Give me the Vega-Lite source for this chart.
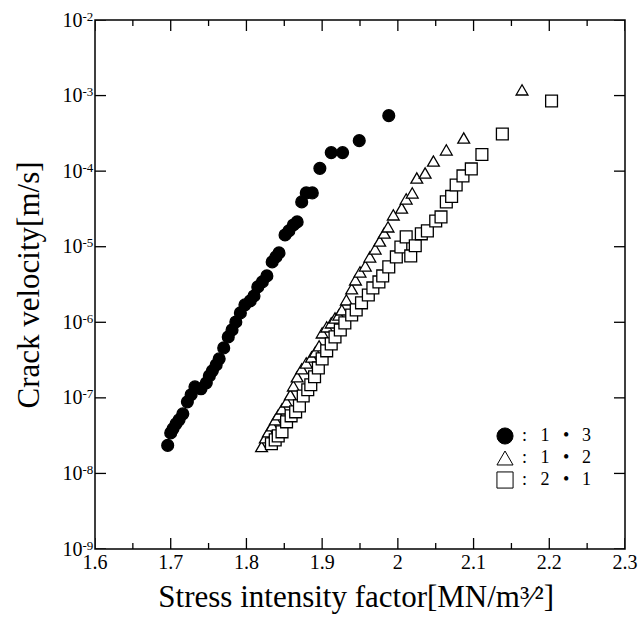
{
  "$schema": "https://vega.github.io/schema/vega-lite/v6.json",
  "width": 530,
  "height": 529,
  "autosize": {"type": "none"},
  "padding": {"left": 95, "top": 20, "right": 13, "bottom": 74},
  "background": "white",
  "config": {
    "view": {"stroke": "black", "strokeWidth": 1.5},
    "axis": {
      "domain": false, "grid": false, "ticks": false,
      "labelFont": "Liberation Serif", "labelFontSize": 20, "labelColor": "black",
      "labelFlush": false, "labelOverlap": false,
      "titleFont": "Liberation Serif", "titleFontSize": 31, "titleFontWeight": "normal", "titleColor": "black"
    },
    "legend": {
      "orient": "none", "legendX": 401, "legendY": 407, "padding": 0,
      "symbolSize": 260, "symbolStrokeWidth": 1,
      "labelFont": "Liberation Serif", "labelFontSize": 18, "labelColor": "black",
      "labelOffset": 8, "rowPadding": 2
    }
  },
  "datasets": {
    "pts": [
      {"r": "1:3", "K": 1.696, "v": 2.35e-8},
      {"r": "1:3", "K": 1.700, "v": 3.44e-8},
      {"r": "1:3", "K": 1.703, "v": 3.89e-8},
      {"r": "1:3", "K": 1.707, "v": 4.53e-8},
      {"r": "1:3", "K": 1.711, "v": 5.12e-8},
      {"r": "1:3", "K": 1.716, "v": 6.14e-8},
      {"r": "1:3", "K": 1.722, "v": 8.85e-8},
      {"r": "1:3", "K": 1.727, "v": 1.10e-7},
      {"r": "1:3", "K": 1.732, "v": 1.40e-7},
      {"r": "1:3", "K": 1.740, "v": 1.32e-7},
      {"r": "1:3", "K": 1.747, "v": 1.58e-7},
      {"r": "1:3", "K": 1.751, "v": 1.95e-7},
      {"r": "1:3", "K": 1.755, "v": 2.28e-7},
      {"r": "1:3", "K": 1.760, "v": 2.73e-7},
      {"r": "1:3", "K": 1.764, "v": 3.28e-7},
      {"r": "1:3", "K": 1.770, "v": 4.58e-7},
      {"r": "1:3", "K": 1.776, "v": 6.41e-7},
      {"r": "1:3", "K": 1.781, "v": 7.93e-7},
      {"r": "1:3", "K": 1.786, "v": 1.01e-6},
      {"r": "1:3", "K": 1.792, "v": 1.33e-6},
      {"r": "1:3", "K": 1.798, "v": 1.70e-6},
      {"r": "1:3", "K": 1.805, "v": 1.92e-6},
      {"r": "1:3", "K": 1.810, "v": 2.23e-6},
      {"r": "1:3", "K": 1.815, "v": 2.94e-6},
      {"r": "1:3", "K": 1.821, "v": 3.42e-6},
      {"r": "1:3", "K": 1.827, "v": 4.11e-6},
      {"r": "1:3", "K": 1.834, "v": 6.30e-6},
      {"r": "1:3", "K": 1.839, "v": 7.33e-6},
      {"r": "1:3", "K": 1.843, "v": 8.28e-6},
      {"r": "1:3", "K": 1.851, "v": 1.43e-5},
      {"r": "1:3", "K": 1.856, "v": 1.62e-5},
      {"r": "1:3", "K": 1.862, "v": 1.94e-5},
      {"r": "1:3", "K": 1.867, "v": 2.13e-5},
      {"r": "1:3", "K": 1.873, "v": 3.92e-5},
      {"r": "1:3", "K": 1.879, "v": 5.15e-5},
      {"r": "1:3", "K": 1.887, "v": 5.15e-5},
      {"r": "1:3", "K": 1.897, "v": 1.09e-4},
      {"r": "1:3", "K": 1.912, "v": 1.76e-4},
      {"r": "1:3", "K": 1.927, "v": 1.76e-4},
      {"r": "1:3", "K": 1.949, "v": 2.53e-4},
      {"r": "1:3", "K": 1.988, "v": 5.42e-4},
      {"r": "1:2", "K": 1.820, "v": 2.27e-8},
      {"r": "1:2", "K": 1.825, "v": 2.96e-8},
      {"r": "1:2", "K": 1.829, "v": 3.55e-8},
      {"r": "1:2", "K": 1.834, "v": 4.27e-8},
      {"r": "1:2", "K": 1.838, "v": 5.12e-8},
      {"r": "1:2", "K": 1.842, "v": 5.96e-8},
      {"r": "1:2", "K": 1.847, "v": 7.15e-8},
      {"r": "1:2", "K": 1.853, "v": 8.85e-8},
      {"r": "1:2", "K": 1.858, "v": 1.10e-7},
      {"r": "1:2", "K": 1.862, "v": 1.44e-7},
      {"r": "1:2", "K": 1.867, "v": 1.90e-7},
      {"r": "1:2", "K": 1.873, "v": 2.42e-7},
      {"r": "1:2", "K": 1.879, "v": 2.90e-7},
      {"r": "1:2", "K": 1.886, "v": 3.48e-7},
      {"r": "1:2", "K": 1.891, "v": 4.06e-7},
      {"r": "1:2", "K": 1.896, "v": 4.88e-7},
      {"r": "1:2", "K": 1.900, "v": 7.24e-7},
      {"r": "1:2", "K": 1.906, "v": 8.69e-7},
      {"r": "1:2", "K": 1.912, "v": 9.82e-7},
      {"r": "1:2", "K": 1.917, "v": 1.14e-6},
      {"r": "1:2", "K": 1.922, "v": 1.25e-6},
      {"r": "1:2", "K": 1.926, "v": 1.46e-6},
      {"r": "1:2", "K": 1.932, "v": 1.98e-6},
      {"r": "1:2", "K": 1.939, "v": 2.77e-6},
      {"r": "1:2", "K": 1.944, "v": 3.64e-6},
      {"r": "1:2", "K": 1.950, "v": 4.64e-6},
      {"r": "1:2", "K": 1.957, "v": 5.57e-6},
      {"r": "1:2", "K": 1.963, "v": 7.33e-6},
      {"r": "1:2", "K": 1.970, "v": 9.35e-6},
      {"r": "1:2", "K": 1.976, "v": 1.19e-5},
      {"r": "1:2", "K": 1.982, "v": 1.52e-5},
      {"r": "1:2", "K": 1.987, "v": 1.83e-5},
      {"r": "1:2", "K": 1.994, "v": 2.64e-5},
      {"r": "1:2", "K": 2.005, "v": 3.26e-5},
      {"r": "1:2", "K": 2.011, "v": 4.29e-5},
      {"r": "1:2", "K": 2.019, "v": 5.15e-5},
      {"r": "1:2", "K": 2.025, "v": 8.13e-5},
      {"r": "1:2", "K": 2.036, "v": 9.46e-5},
      {"r": "1:2", "K": 2.047, "v": 1.36e-4},
      {"r": "1:2", "K": 2.064, "v": 1.91e-4},
      {"r": "1:2", "K": 2.087, "v": 2.75e-4},
      {"r": "1:2", "K": 2.164, "v": 1.19e-3},
      {"r": "2:1", "K": 1.833, "v": 2.47e-8},
      {"r": "2:1", "K": 1.838, "v": 2.78e-8},
      {"r": "2:1", "K": 1.842, "v": 3.14e-8},
      {"r": "2:1", "K": 1.847, "v": 3.55e-8},
      {"r": "2:1", "K": 1.853, "v": 4.82e-8},
      {"r": "2:1", "K": 1.859, "v": 5.78e-8},
      {"r": "2:1", "K": 1.865, "v": 6.53e-8},
      {"r": "2:1", "K": 1.870, "v": 7.83e-8},
      {"r": "2:1", "K": 1.875, "v": 1.06e-7},
      {"r": "2:1", "K": 1.881, "v": 1.28e-7},
      {"r": "2:1", "K": 1.885, "v": 1.49e-7},
      {"r": "2:1", "K": 1.890, "v": 1.90e-7},
      {"r": "2:1", "K": 1.895, "v": 2.49e-7},
      {"r": "2:1", "K": 1.900, "v": 3.28e-7},
      {"r": "2:1", "K": 1.906, "v": 4.19e-7},
      {"r": "2:1", "K": 1.912, "v": 5.18e-7},
      {"r": "2:1", "K": 1.917, "v": 6.41e-7},
      {"r": "2:1", "K": 1.924, "v": 7.93e-7},
      {"r": "2:1", "K": 1.930, "v": 9.82e-7},
      {"r": "2:1", "K": 1.939, "v": 1.25e-6},
      {"r": "2:1", "K": 1.945, "v": 1.46e-6},
      {"r": "2:1", "K": 1.952, "v": 1.81e-6},
      {"r": "2:1", "K": 1.961, "v": 2.30e-6},
      {"r": "2:1", "K": 1.967, "v": 2.85e-6},
      {"r": "2:1", "K": 1.975, "v": 3.42e-6},
      {"r": "2:1", "K": 1.980, "v": 4.11e-6},
      {"r": "2:1", "K": 1.988, "v": 5.41e-6},
      {"r": "2:1", "K": 1.998, "v": 7.33e-6},
      {"r": "2:1", "K": 2.004, "v": 9.93e-6},
      {"r": "2:1", "K": 2.011, "v": 1.35e-5},
      {"r": "2:1", "K": 2.017, "v": 7.55e-6},
      {"r": "2:1", "K": 2.023, "v": 1.03e-5},
      {"r": "2:1", "K": 2.031, "v": 1.48e-5},
      {"r": "2:1", "K": 2.039, "v": 1.62e-5},
      {"r": "2:1", "K": 2.050, "v": 2.19e-5},
      {"r": "2:1", "K": 2.057, "v": 2.48e-5},
      {"r": "2:1", "K": 2.064, "v": 3.92e-5},
      {"r": "2:1", "K": 2.071, "v": 4.63e-5},
      {"r": "2:1", "K": 2.077, "v": 6.56e-5},
      {"r": "2:1", "K": 2.086, "v": 8.65e-5},
      {"r": "2:1", "K": 2.097, "v": 1.07e-4},
      {"r": "2:1", "K": 2.111, "v": 1.66e-4},
      {"r": "2:1", "K": 2.138, "v": 3.10e-4},
      {"r": "2:1", "K": 2.203, "v": 8.49e-4}
    ],
    "xt": [
      {"K": 1.6, "kind": "major"}, {"K": 1.65, "kind": "minor"},
      {"K": 1.7, "kind": "major"}, {"K": 1.75, "kind": "minor"},
      {"K": 1.8, "kind": "major"}, {"K": 1.85, "kind": "minor"},
      {"K": 1.9, "kind": "major"}, {"K": 1.95, "kind": "minor"},
      {"K": 2.0, "kind": "major"}, {"K": 2.05, "kind": "minor"},
      {"K": 2.1, "kind": "major"}, {"K": 2.15, "kind": "minor"},
      {"K": 2.2, "kind": "major"}, {"K": 2.25, "kind": "minor"},
      {"K": 2.3, "kind": "major"}
    ],
    "yt": [
      {"v": 1e-9}, {"v": 1e-8}, {"v": 1e-7}, {"v": 1e-6},
      {"v": 1e-5}, {"v": 1e-4}, {"v": 1e-3}, {"v": 1e-2}
    ],
    "xtitle": [
      {"t": "Stress intensity factor[MN/m³⁄²]"}
    ]
  },
  "layer": [
    {
      "data": {"name": "pts"},
      "mark": {"type": "point", "strokeWidth": 1.3, "size": 140, "opacity": 1},
      "encoding": {
        "x": {
          "field": "K", "type": "quantitative",
          "scale": {"domain": [1.6, 2.3], "nice": false, "zero": false},
          "axis": null
        },
        "y": {
          "field": "v", "type": "quantitative",
          "scale": {"type": "log", "domain": [1e-9, 1e-2], "nice": false},
          "axis": {
            "orient": "left",
            "values": [1e-9, 1e-8, 1e-7, 1e-6, 1e-5, 1e-4, 1e-3, 1e-2],
            "labelPadding": 13,
            "labelAlign": "right",
            "labelExpr": "'10'",
            "title": "Crack velocity[m/s]",
            "titlePadding": 17
          }
        },
        "shape": {
          "field": "r", "type": "nominal",
          "scale": {"domain": ["1:3", "1:2", "2:1"], "range": ["circle", "triangle-up", "square"]},
          "legend": {"title": null, "labelExpr": "':\u2002\u00a0' + split(datum.label, ':')[0] + '\u2002\u00a0•\u2002\u2009' + split(datum.label, ':')[1]"}
        },
        "fill": {
          "field": "r", "type": "nominal",
          "scale": {"domain": ["1:3", "1:2", "2:1"], "range": ["black", "white", "white"]},
          "legend": {"title": null, "labelExpr": "':\u2002\u00a0' + split(datum.label, ':')[0] + '\u2002\u00a0•\u2002\u2009' + split(datum.label, ':')[1]"}
        },
        "stroke": {
          "field": "r", "type": "nominal",
          "scale": {"domain": ["1:3", "1:2", "2:1"], "range": ["black", "black", "black"]},
          "legend": {"title": null, "labelExpr": "':\u2002\u00a0' + split(datum.label, ':')[0] + '\u2002\u00a0•\u2002\u2009' + split(datum.label, ':')[1]"}
        }
      }
    },
    {
      "data": {"name": "xt"},
      "mark": {"type": "tick", "orient": "vertical", "color": "black", "thickness": 1.3, "clip": true, "opacity": 1},
      "encoding": {
        "x": {"field": "K", "type": "quantitative", "axis": null},
        "y": {"datum": 1e-9, "type": "quantitative", "axis": null},
        "size": {"field": "kind", "type": "nominal", "scale": {"domain": ["major", "minor"], "range": [22, 12]}, "legend": null}
      }
    },
    {
      "data": {"name": "xt"},
      "mark": {"type": "tick", "orient": "vertical", "color": "black", "thickness": 1.3, "clip": true, "opacity": 1},
      "encoding": {
        "x": {"field": "K", "type": "quantitative", "axis": null},
        "y": {"datum": 1e-2, "type": "quantitative", "axis": null},
        "size": {"field": "kind", "type": "nominal", "scale": {"domain": ["major", "minor"], "range": [22, 12]}, "legend": null}
      }
    },
    {
      "data": {"name": "yt"},
      "mark": {"type": "tick", "orient": "horizontal", "color": "black", "thickness": 1.3, "size": 22, "clip": true, "opacity": 1},
      "encoding": {
        "x": {"datum": 1.6, "type": "quantitative", "axis": null},
        "y": {
          "field": "v", "type": "quantitative",
          "axis": {
            "orient": "left",
            "values": [1e-9, 1e-8, 1e-7, 1e-6, 1e-5, 1e-4, 1e-3, 1e-2],
            "labelPadding": 13,
            "labelAlign": "left",
            "labelFontSize": 13,
            "labelOffset": -4,
            "labelExpr": "'-' + (-round(log(datum.value)/LN10))",
            "title": null
          }
        }
      }
    },
    {
      "data": {"name": "yt"},
      "mark": {"type": "tick", "orient": "horizontal", "color": "black", "thickness": 1.3, "size": 22, "clip": true, "opacity": 1},
      "encoding": {
        "x": {"datum": 2.3, "type": "quantitative", "axis": null},
        "y": {"field": "v", "type": "quantitative", "axis": null}
      }
    },
    {
      "data": {"name": "xt"},
      "transform": [{"filter": "datum.kind == 'major'"}],
      "mark": {"type": "text", "font": "Liberation Serif", "fontSize": 20, "color": "black", "align": "center", "baseline": "top", "dy": 4},
      "encoding": {
        "x": {"field": "K", "type": "quantitative", "axis": null},
        "y": {"datum": 1e-9, "type": "quantitative", "axis": null},
        "text": {"field": "K", "type": "quantitative", "format": "~g"}
      }
    },
    {
      "data": {"name": "xtitle"},
      "mark": {"type": "text", "font": "Liberation Serif", "fontSize": 31, "color": "black", "align": "center", "baseline": "top", "dy": 34},
      "encoding": {
        "x": {"datum": 1.945, "type": "quantitative", "axis": null},
        "y": {"datum": 1e-9, "type": "quantitative", "axis": null},
        "text": {"field": "t", "type": "nominal"}
      }
    }
  ],
  "resolve": {"axis": {"y": "independent"}}
}
